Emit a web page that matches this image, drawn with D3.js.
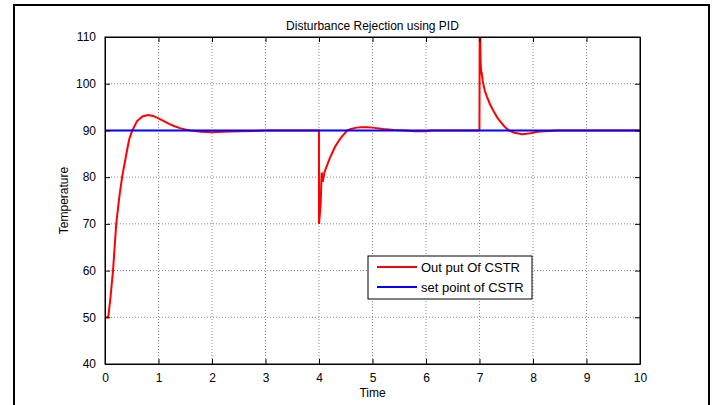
<!DOCTYPE html>
<meta charset="utf-8">
<html>
<head>
<script type="text/javascript" src="https://d3js.org/d3.v7.js"></script>
</head>
<body style="margin:0;background:white;">
<div id="plotArea"></div>
<style>
  body { font-family: "Liberation Sans", Arial, sans-serif; }
  .grid line { stroke: #888; stroke-dasharray: 1,2; stroke-width: 1px; }
</style>
<script>
  // output of the CSTR (time, temperature)
  const outTime = [0, 0.06, 0.1, 0.15, 0.21, 0.27, 0.32, 0.4, 0.45, 0.51, 0.6, 0.7, 0.8, 0.9, 1.0, 1.1, 1.2, 1.3, 1.4, 1.5, 1.6, 1.8, 2.0, 2.2, 2.5, 2.8, 3.0, 3.5, 3.999,
                   4.0, 4.03, 4.05, 4.07, 4.1, 4.2, 4.3, 4.4, 4.53, 4.6, 4.7, 4.8, 4.9, 5.0, 5.2, 5.4, 5.6, 5.8, 6.0, 6.1, 6.3, 6.999,
                   7.005, 7.02, 7.03, 7.035, 7.04, 7.06, 7.1, 7.14, 7.2, 7.27, 7.33, 7.39, 7.47, 7.55, 7.65, 7.8, 7.95, 8.08, 8.3, 8.48, 9, 10];
  const outTemp = [50, 50, 54, 60, 70, 76, 80, 85, 88, 90, 92, 93, 93.3, 93.1, 92.6, 92, 91.4, 90.9, 90.5, 90.2, 90, 89.7, 89.6, 89.7, 89.8, 89.9, 90, 90, 90,
                   70, 74, 81, 79, 81, 84, 86.5, 88.3, 90, 90.3, 90.6, 90.7, 90.7, 90.6, 90.3, 90.1, 90, 89.8, 89.8, 90, 90, 90,
                   120, 104.5, 103, 102, 102.5, 100.5, 98.5, 97.2, 95.5, 94, 92.8, 91.9, 90.8, 90, 89.5, 89.2, 89.4, 89.7, 89.9, 90, 90, 90];
  // set point
  const spTime = [0, 10];
  const spTemp = [90, 90];

  const xTicks = [0,1,2,3,4,5,6,7,8,9,10];
  const yTicks = [40,50,60,70,80,90,100,110];
  const legendNames = ['Out put Of CSTR', 'set point of CSTR'];
  const colors = ['#ff0000', '#0000ff'];

  const W = 713, H = 405;
  const margin = {top: 37, right: 73, bottom: 41, left: 105},
        width = W - margin.left - margin.right,
        height = H - margin.top - margin.bottom;

  const root = d3.select('#plotArea').append('svg')
    .attr('width', W).attr('height', H);

  // figure frame
  root.append('rect').attr('x', 14).attr('y', 5).attr('width', 695).attr('height', 430)
    .attr('fill', 'white').attr('stroke', 'black').attr('stroke-width', 2);

  const svg = root.append('g').attr('transform', `translate(${margin.left},${margin.top})`);

  const x = d3.scaleLinear().domain([0, 10]).range([0, width]);
  const y = d3.scaleLinear().domain([40, 110]).range([height, 0]);

  // grid
  svg.append('g').attr('class', 'grid')
    .selectAll('line').data(xTicks.slice(1, -1)).enter().append('line')
    .attr('x1', d => x(d)).attr('x2', d => x(d)).attr('y1', 0).attr('y2', height);
  svg.append('g').attr('class', 'grid')
    .selectAll('line').data(yTicks.slice(1, -1)).enter().append('line')
    .attr('y1', d => y(d)).attr('y2', d => y(d)).attr('x1', 0).attr('x2', width);

  // clip
  svg.append('clipPath').attr('id', 'clip').append('rect')
    .attr('width', width).attr('height', height);

  const line = d3.line().x(d => x(d[0])).y(d => y(d[1]));
  svg.append('path').datum(d3.zip(outTime, outTemp))
    .attr('clip-path', 'url(#clip)')
    .attr('d', line).attr('fill', 'none').attr('stroke', colors[0]).attr('stroke-width', 2);
  svg.append('path').datum(d3.zip(spTime, spTemp))
    .attr('clip-path', 'url(#clip)')
    .attr('d', line).attr('fill', 'none').attr('stroke', colors[1]).attr('stroke-width', 2);

  // axes, ticks inside
  const fs = '12px';
  const xAxis = svg.append('g').attr('transform', `translate(0,${height})`)
    .call(d3.axisBottom(x).tickValues(xTicks).tickSizeInner(-5).tickSizeOuter(0).tickPadding(9));
  const yAxis = svg.append('g')
    .call(d3.axisLeft(y).tickValues(yTicks).tickSizeInner(-5).tickSizeOuter(0).tickPadding(9));
  svg.append('g')
    .call(d3.axisTop(x).tickValues(xTicks).tickSizeInner(-5).tickSizeOuter(0).tickFormat(''));
  svg.append('g').attr('transform', `translate(${width},0)`)
    .call(d3.axisRight(y).tickValues(yTicks).tickSizeInner(-5).tickSizeOuter(0).tickFormat(''));
  svg.selectAll('.domain').attr('stroke', 'black');
  svg.selectAll('.tick line').attr('stroke', 'black');
  svg.selectAll('.tick text').attr('fill', '#000').style('font-size', fs)
    .style('font-family', '"Liberation Sans", Arial, sans-serif');
  xAxis.selectAll('.tick text').attr('dy', '0.71em');

  // box
  svg.append('rect').attr('width', width).attr('height', height)
    .attr('fill', 'none').attr('stroke', 'black').attr('stroke-width', 1);

  // title and labels
  svg.append('text').attr('x', width / 2).attr('y', -7)
    .attr('text-anchor', 'middle').style('font-size', fs).text('Disturbance Rejection using PID');
  svg.append('text').attr('x', width / 2).attr('y', height + 33)
    .attr('text-anchor', 'middle').style('font-size', fs).text('Time');
  svg.append('text').attr('transform', 'rotate(-90)')
    .attr('x', -height / 2).attr('y', -37)
    .attr('text-anchor', 'middle').style('font-size', fs).text('Temperature');

  // legend
  const lg = root.append('g').attr('transform', 'translate(368,256)');
  lg.append('rect').attr('width', 164).attr('height', 43)
    .attr('fill', 'white').attr('stroke', 'black').attr('stroke-width', 1);
  legendNames.forEach(function(name, i) {
    lg.append('line').attr('x1', 9).attr('x2', 49)
      .attr('y1', 11 + i * 20).attr('y2', 11 + i * 20)
      .attr('stroke', colors[i]).attr('stroke-width', 2);
    lg.append('text').attr('x', 53).attr('y', 11 + i * 20).attr('dy', '0.35em')
      .style('font-size', '13px').text(name);
  });
</script>
</body>
</html>
